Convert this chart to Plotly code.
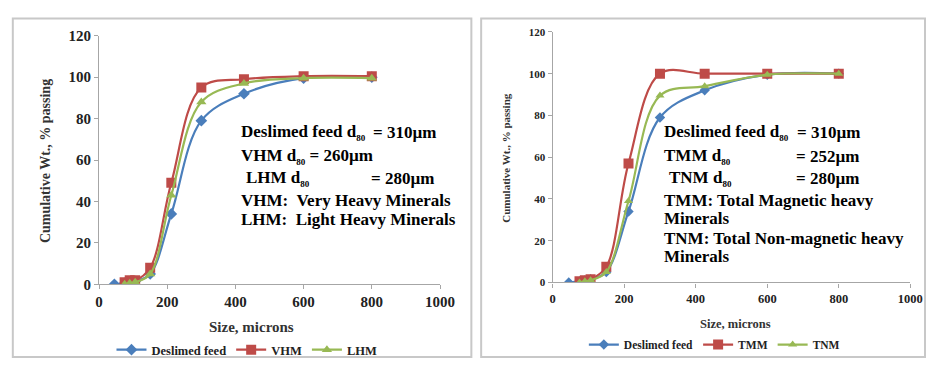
import plotly.graph_objects as go

# Sieve sizes (microns)
sizes_feed = [45, 75, 90, 106, 150, 212, 300, 425, 600, 800]
sizes_heavy = [75, 90, 106, 150, 212, 300, 425, 600, 800]

# Cumulative weight % passing
deslimed_feed = [0, 0.5, 1, 1.5, 5, 34, 79, 92, 99.5, 100]
vhm = [1, 2, 2, 8, 49, 95, 99, 100.5, 100.5]
lhm = [0, 0.5, 1, 5, 43, 88, 97, 99.5, 99.5]
tmm = [0.5, 1, 1.5, 7.5, 57, 100, 100, 100, 100]
tnm = [0, 0.5, 1, 5, 39, 89.5, 94, 99.5, 100]

x_ticks = [0, 200, 400, 600, 800, 1000]
y_ticks = [0, 20, 40, 60, 80, 100, 120]

BLUE = "#4a7ebb"
RED = "#be4b48"
GREEN = "#98b954"
FONT = "Liberation Serif"
W, H = 940, 365


def px(x):
    return x / W


def py(y):
    return 1 - y / H


def bold(s):
    return "<b>" + s + "</b>"


fig = go.Figure()


def add_series(x, y, name, color, symbol, msize, xa, ya, legend):
    fig.add_trace(go.Scatter(
        x=x, y=y, name=bold(name), mode="lines+markers",
        line=dict(color=color, width=2.2, shape="spline", smoothing=1.0),
        marker=dict(color=color, symbol=symbol, size=msize),
        xaxis=xa, yaxis=ya, legend=legend,
    ))


add_series(sizes_feed, deslimed_feed, "Deslimed feed", BLUE, "diamond", 9, "x", "y", "legend")
add_series(sizes_heavy, vhm, "VHM", RED, "square", 10, "x", "y", "legend")
add_series(sizes_heavy, lhm, "LHM", GREEN, "triangle-up", 9, "x", "y", "legend")

add_series(sizes_feed, deslimed_feed, "Deslimed feed", BLUE, "diamond", 8, "x2", "y2", "legend2")
add_series(sizes_heavy, tmm, "TMM", RED, "square", 10, "x2", "y2", "legend2")
add_series(sizes_heavy, tnm, "TNM", GREEN, "triangle-up", 8, "x2", "y2", "legend2")


def axis(domain, anchor, fsize, tickvals, rng):
    return dict(
        domain=domain, anchor=anchor, range=rng, tickvals=tickvals,
        ticktext=[bold(str(v)) for v in tickvals],
        showline=True, linecolor="#a6a6a6", linewidth=1.3,
        ticks="outside", ticklen=4, tickcolor="#a6a6a6",
        showgrid=False, zeroline=False,
        tickfont=dict(family=FONT, size=fsize, color="#222222"),
    )


fig.update_layout(
    width=W, height=H,
    margin=dict(l=0, r=0, t=0, b=0),
    paper_bgcolor="white", plot_bgcolor="white",
    font=dict(family=FONT),
    xaxis=axis([px(97), px(445)], "y", 15, x_ticks, [0, 1000]),
    yaxis=axis([py(289), py(29)], "x", 15, y_ticks, [0, 120]),
    xaxis2=axis([px(560), px(925)], "y2", 12.5, x_ticks, [0, 1000]),
    yaxis2=axis([py(287), py(25)], "x2", 11, y_ticks, [0, 120]),
    legend=dict(orientation="h", x=px(248), y=py(358), xanchor="center", yanchor="middle",
                font=dict(family=FONT, size=12.5, color="#222222"),
                bgcolor="rgba(0,0,0,0)", itemwidth=30, tracegroupgap=0),
    legend2=dict(orientation="h", x=px(725), y=py(352), xanchor="center", yanchor="middle",
                 font=dict(family=FONT, size=11.5, color="#222222"),
                 bgcolor="rgba(0,0,0,0)", itemwidth=30, tracegroupgap=0),
    showlegend=True,
)

# Panel frames
fig.add_shape(type="rect", xref="paper", yref="paper",
              x0=px(9), x1=px(477), y0=0, y1=py(11),
              line=dict(color="#c8c8c8", width=2))
fig.add_shape(type="rect", xref="paper", yref="paper",
              x0=px(487), x1=1, y0=0, y1=py(11),
              line=dict(color="#c8c8c8", width=2))


def note(x, y, text, size, xanchor="left", angle=0, color="#000000"):
    fig.add_annotation(xref="paper", yref="paper", x=px(x), y=py(y), text=bold(text),
                       showarrow=False, xanchor=xanchor, yanchor="middle",
                       textangle=angle,
                       font=dict(family=FONT, size=size, color=color))


# Axis titles
note(253, 334, "Size, microns", 15, "center", color="#333333")
note(43, 160, "Cumulative Wt., % passing", 14, "center", -90, "#333333")
note(747, 330, "Size, microns", 12.5, "center", color="#333333")
note(512, 157, "Cumulative Wt., % passing", 11, "center", -90, "#333333")

# Left panel notes
DSUB = "d<sub><span style='font-size:9px'>80</span></sub>"
note(240, 130, "Deslimed feed " + DSUB, 17)
note(375, 130, "= 310µm", 17)
note(240, 155, "VHM " + DSUB + " = 260µm", 17)
note(245, 178, "LHM " + DSUB, 17)
note(373, 178, "= 280µm", 17)
note(240, 201, "VHM:  Very Heavy Minerals", 17)
note(240, 221, "LHM:  Light Heavy Minerals", 17)

# Right panel notes
note(672, 130, "Deslimed feed " + DSUB, 17)
note(807, 130, "= 310µm", 17)
note(672, 155, "TMM " + DSUB, 17)
note(806, 155, "= 252µm", 17)
note(677, 178, "TNM " + DSUB, 17)
note(806, 178, "= 280µm", 17)
note(672, 201, "TMM: Total Magnetic heavy", 17)
note(672, 220, "Minerals", 17)
note(672, 241, "TNM: Total Non-magnetic heavy", 17)
note(672, 260, "Minerals", 17)

fig.write_html("out.html")
